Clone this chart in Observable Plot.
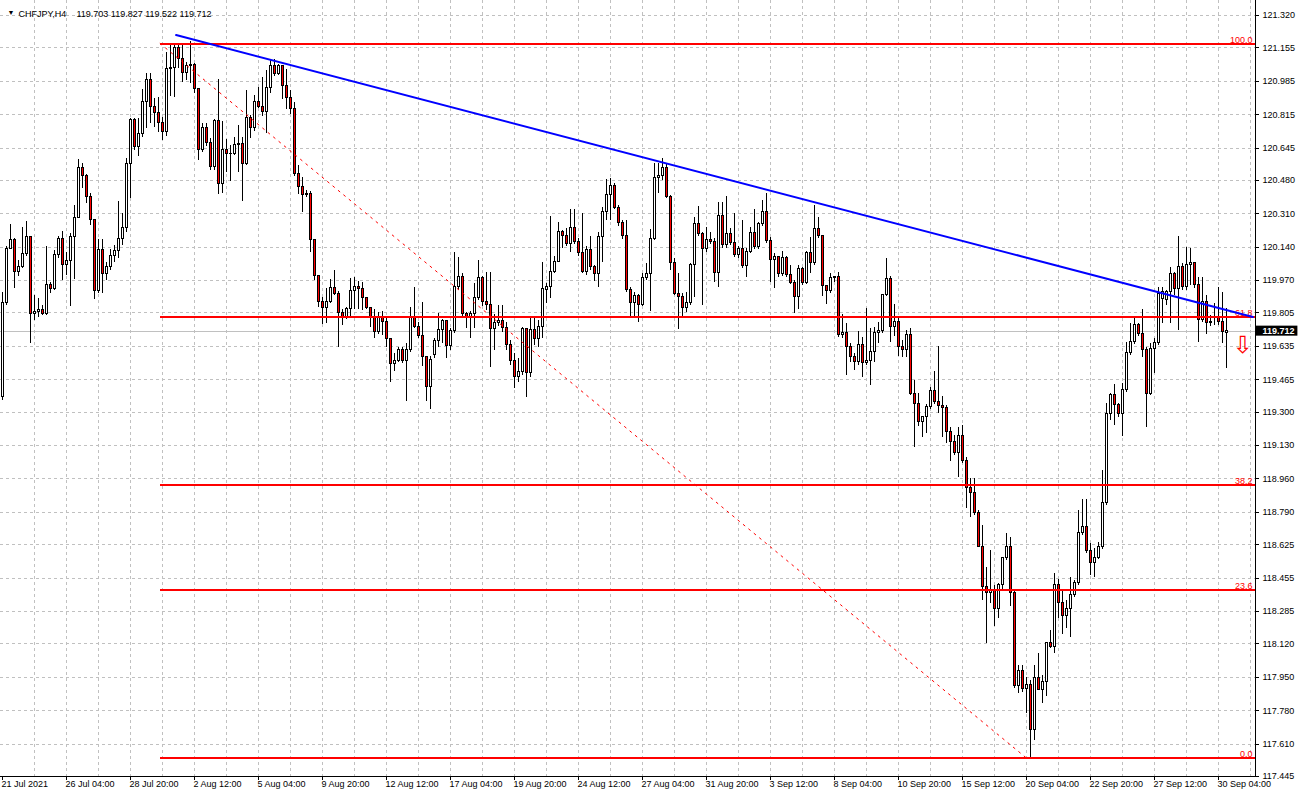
<!DOCTYPE html>
<html><head><meta charset="utf-8">
<script src="https://cdn.jsdelivr.net/npm/d3@7"></script>
<script src="https://cdn.jsdelivr.net/npm/@observablehq/plot@0.6"></script>
<style>body{margin:0;background:#fff} svg{display:block}</style>
</head><body><div id="chart"></div>
<script>
const open = [
119.375,119.854,120.133,120.179,120.016,120.037,120.103,120.190,119.798,119.808,
119.818,119.798,119.945,119.925,120.098,120.184,120.047,120.072,120.190,120.291,
120.541,120.500,120.398,120.276,119.915,120.128,120.006,120.037,120.093,120.123,
120.184,120.240,120.566,120.790,120.648,120.714,120.877,120.989,120.856,120.821,
120.770,120.724,121.045,121.050,121.152,121.096,121.029,121.060,121.070,120.943,
120.637,120.749,120.673,120.546,120.780,120.464,120.637,120.612,120.617,120.658,
120.663,120.566,120.800,120.749,120.877,120.856,120.826,120.953,121.065,121.024,
121.060,120.963,120.902,120.846,120.515,120.444,120.408,120.413,120.179,119.991,
119.859,119.828,119.859,119.930,119.904,119.803,119.782,119.823,119.915,119.935,
119.925,119.879,119.828,119.782,119.706,119.777,119.757,119.675,119.543,119.563,
119.619,119.558,119.614,119.782,119.736,119.686,119.579,119.426,119.589,119.660,
119.716,119.762,119.635,119.711,119.935,119.986,119.798,119.777,119.798,119.879,
119.981,119.859,119.848,119.721,119.752,119.762,119.726,119.640,119.563,119.477,
119.507,119.721,119.497,119.716,119.670,119.736,119.920,119.935,120.016,120.067,
120.215,120.195,120.154,120.240,120.164,120.108,120.016,120.128,120.037,120.001,
120.190,120.317,120.408,120.454,120.342,120.261,120.195,119.920,119.854,119.894,
119.848,119.981,120.006,120.184,120.490,120.500,120.541,120.393,120.057,119.904,
119.884,119.828,119.854,120.047,120.256,120.205,120.133,120.179,120.164,120.011,
120.301,120.149,120.205,120.159,120.098,120.133,120.042,120.118,120.210,120.139,
120.256,120.317,120.169,120.077,120.088,120.001,120.083,119.996,119.960,119.884,
120.027,119.960,120.108,120.057,120.235,120.195,119.940,119.915,119.981,119.986,
119.691,119.701,119.630,119.579,119.553,119.640,119.548,119.558,119.604,119.701,
119.711,119.899,119.976,119.736,119.757,119.630,119.619,119.691,119.395,119.344,
119.248,119.273,119.324,119.406,119.350,119.329,119.319,119.197,119.146,119.090,
119.181,119.049,118.912,118.886,118.789,118.616,118.408,118.377,118.392,118.296,
118.418,118.555,118.611,118.377,117.904,117.980,117.888,117.909,117.680,117.944,
117.883,117.924,118.123,118.102,118.418,118.326,118.260,118.296,118.367,118.428,
118.683,118.713,118.591,118.530,118.560,118.611,118.840,119.293,119.385,119.334,
119.293,119.411,119.599,119.655,119.742,119.696,119.614,119.395,119.624,119.650,
119.874,119.869,119.910,120.006,119.925,120.037,119.935,120.047,120.057,119.945,
119.767,119.859,119.752,119.787,119.777,119.757,119.703];
const high = [
119.910,120.144,120.256,120.184,120.072,120.240,120.271,120.190,119.894,119.879,
119.843,120.144,119.960,120.123,120.195,120.220,120.113,120.210,120.352,120.587,
120.566,120.510,120.413,120.281,120.179,120.179,120.062,120.128,120.149,120.373,
120.312,120.592,120.795,120.795,120.795,120.943,121.024,121.024,120.897,120.902,
120.800,121.131,121.177,121.177,121.177,121.177,121.080,121.187,121.075,120.948,
120.770,120.770,120.693,120.790,120.994,120.780,120.688,120.658,120.699,120.760,
120.699,120.938,120.811,120.912,120.953,121.004,121.040,121.096,121.096,121.070,
121.065,121.045,120.938,120.877,120.556,120.495,120.429,120.424,120.179,119.996,
119.884,119.930,119.976,120.021,119.915,119.823,119.833,119.981,119.986,119.966,
119.960,119.879,119.828,119.823,119.808,119.813,119.777,119.675,119.599,119.630,
119.630,119.650,119.833,119.935,119.757,119.859,119.579,119.584,119.675,119.803,
119.772,119.767,119.726,120.113,120.088,120.006,119.808,119.813,119.955,120.072,
119.991,120.011,120.011,119.798,119.843,119.843,119.757,119.665,119.599,119.573,
119.731,119.726,119.782,119.777,119.767,120.062,119.955,120.296,120.093,120.266,
120.225,120.235,120.332,120.332,120.184,120.312,120.144,120.195,120.047,120.215,
120.342,120.485,120.490,120.464,120.352,120.276,120.276,119.935,119.910,119.899,
120.006,120.057,120.230,120.566,120.566,120.592,120.566,120.403,120.083,120.006,
119.904,119.910,120.057,120.291,120.347,120.215,120.240,120.215,120.184,120.368,
120.368,120.398,120.235,120.312,120.144,120.276,120.133,120.240,120.332,120.266,
120.378,120.413,120.190,120.108,120.088,120.118,120.093,120.047,119.971,120.047,
120.037,120.118,120.190,120.352,120.291,120.195,119.945,120.006,119.991,120.011,
119.798,119.752,119.650,119.599,119.711,119.680,119.828,119.726,119.731,119.757,
119.899,120.083,119.991,119.848,119.777,119.665,119.716,119.726,119.461,119.395,
119.278,119.339,119.426,119.507,119.635,119.380,119.334,119.222,119.181,119.222,
119.232,119.069,118.962,118.962,118.800,118.723,118.509,118.596,118.418,118.428,
118.560,118.683,118.662,118.392,118.011,118.011,117.949,117.934,118.011,118.072,
117.960,118.128,118.189,118.479,118.448,118.397,118.341,118.458,118.443,118.800,
118.856,118.856,118.632,118.606,118.637,119.003,119.344,119.395,119.441,119.344,
119.446,119.655,119.752,119.787,119.752,119.823,119.630,119.650,119.675,119.935,
119.935,119.920,120.037,120.011,120.195,120.057,120.139,120.133,120.062,119.986,
119.986,119.894,119.792,119.854,119.935,119.910,119.827];
const low = [
119.360,119.843,120.128,119.930,119.991,120.032,120.093,119.650,119.767,119.782,
119.792,119.792,119.904,119.920,120.083,119.971,119.996,119.838,119.976,120.286,
120.439,120.363,120.251,119.874,119.904,119.904,119.971,120.021,120.062,120.083,
120.149,120.215,120.388,120.632,120.602,120.699,120.744,120.770,120.749,120.724,
120.683,120.704,120.907,120.902,121.050,120.979,120.989,120.973,120.923,120.581,
120.622,120.653,120.531,120.531,120.408,120.413,120.520,120.475,120.607,120.520,
120.373,120.556,120.693,120.729,120.846,120.806,120.719,120.923,121.009,121.014,
120.892,120.841,120.816,120.500,120.408,120.317,120.393,120.113,119.971,119.833,
119.747,119.752,119.854,119.894,119.630,119.742,119.772,119.777,119.823,119.823,
119.818,119.823,119.731,119.675,119.696,119.691,119.630,119.451,119.507,119.553,
119.548,119.354,119.604,119.726,119.675,119.533,119.354,119.314,119.573,119.630,
119.650,119.573,119.614,119.701,119.920,119.787,119.726,119.675,119.726,119.869,
119.838,119.818,119.528,119.614,119.736,119.706,119.614,119.538,119.421,119.451,
119.487,119.375,119.477,119.640,119.630,119.675,119.854,119.879,120.006,120.062,
120.133,120.144,120.113,120.154,120.093,120.006,119.996,120.021,119.966,119.935,
120.062,120.276,120.276,120.332,120.245,120.179,119.910,119.787,119.787,119.757,
119.838,119.971,119.813,120.174,120.413,120.480,120.388,120.021,119.894,119.721,
119.782,119.808,119.843,119.884,120.195,119.843,120.113,120.154,119.960,119.935,
120.133,120.133,120.149,120.088,120.083,120.032,119.986,120.108,120.128,120.128,
120.245,120.159,119.960,119.930,119.986,119.991,119.986,119.950,119.803,119.823,
119.945,119.950,120.006,120.047,120.184,119.889,119.848,119.904,119.960,119.680,
119.675,119.487,119.553,119.512,119.538,119.477,119.538,119.436,119.553,119.650,
119.701,119.889,119.655,119.686,119.584,119.579,119.579,119.385,119.120,119.227,
119.171,119.192,119.314,119.339,119.293,119.171,119.141,119.049,119.080,118.968,
119.039,118.810,118.764,118.774,118.611,118.341,118.123,118.326,118.209,118.250,
118.392,118.545,118.311,117.893,117.868,117.873,117.766,117.537,117.629,117.883,
117.817,117.853,118.097,118.072,118.250,118.168,118.199,118.153,118.357,118.418,
118.672,118.581,118.469,118.458,118.550,118.601,118.825,119.258,119.232,119.273,
119.176,119.400,119.589,119.645,119.686,119.579,119.222,119.385,119.497,119.640,
119.752,119.843,119.752,119.894,119.716,119.920,119.920,119.945,119.930,119.655,
119.757,119.696,119.736,119.742,119.742,119.650,119.522];
const close = [
119.854,120.133,120.179,120.016,120.037,120.103,120.190,119.798,119.808,119.818,
119.798,119.945,119.925,120.098,120.184,120.047,120.072,120.190,120.291,120.541,
120.500,120.398,120.276,119.915,120.128,120.006,120.037,120.093,120.123,120.184,
120.240,120.566,120.790,120.648,120.714,120.877,120.989,120.856,120.821,120.770,
120.724,121.045,121.050,121.152,121.096,121.029,121.060,121.070,120.943,120.637,
120.749,120.673,120.546,120.780,120.464,120.637,120.612,120.617,120.658,120.663,
120.566,120.800,120.749,120.877,120.856,120.826,120.953,121.065,121.024,121.060,
120.963,120.902,120.846,120.515,120.444,120.408,120.413,120.179,119.991,119.859,
119.828,119.859,119.930,119.904,119.803,119.782,119.823,119.915,119.935,119.925,
119.879,119.828,119.782,119.706,119.777,119.757,119.675,119.543,119.563,119.619,
119.558,119.614,119.782,119.736,119.686,119.579,119.426,119.568,119.660,119.716,
119.762,119.635,119.711,119.935,119.986,119.798,119.777,119.798,119.879,119.981,
119.859,119.848,119.721,119.752,119.762,119.726,119.640,119.563,119.477,119.507,
119.721,119.497,119.716,119.670,119.736,119.925,119.935,120.016,120.067,120.215,
120.195,120.154,120.240,120.164,120.108,120.016,120.128,120.037,120.001,120.190,
120.317,120.408,120.454,120.342,120.261,120.195,119.920,119.854,119.894,119.848,
119.981,120.006,120.184,120.490,120.500,120.541,120.393,120.057,119.904,119.884,
119.828,119.854,120.047,120.256,120.205,120.133,120.179,120.164,120.011,120.301,
120.149,120.205,120.159,120.098,120.133,120.042,120.118,120.210,120.139,120.256,
120.317,120.169,120.077,120.088,120.001,120.083,119.996,119.960,119.884,120.027,
119.960,120.108,120.057,120.235,120.195,119.940,119.915,119.981,119.986,119.691,
119.701,119.630,119.579,119.553,119.640,119.548,119.558,119.604,119.701,119.711,
119.899,119.976,119.736,119.757,119.630,119.619,119.691,119.395,119.344,119.248,
119.273,119.324,119.406,119.350,119.329,119.319,119.197,119.146,119.090,119.181,
119.049,118.912,118.886,118.789,118.616,118.408,118.377,118.392,118.296,118.418,
118.555,118.611,118.377,117.904,117.980,117.888,117.909,117.680,117.944,117.883,
117.924,118.123,118.102,118.418,118.326,118.260,118.296,118.367,118.428,118.683,
118.713,118.591,118.530,118.560,118.611,118.840,119.293,119.385,119.334,119.293,
119.411,119.599,119.655,119.742,119.696,119.614,119.395,119.624,119.650,119.904,
119.910,119.910,120.006,119.925,120.037,119.935,120.047,120.057,119.945,119.767,
119.859,119.752,119.757,119.777,119.757,119.706,119.712];

// axis labels
const xLabelBars = [0,16,32,48,64,80,96,112,128,144,160,176,192,208,224,240,256,272,288,304];
const xLabels = ["21 Jul 2021","26 Jul 04:00","28 Jul 20:00","2 Aug 12:00","5 Aug 04:00","9 Aug 20:00",
  "12 Aug 12:00","17 Aug 04:00","19 Aug 20:00","24 Aug 12:00","27 Aug 04:00","31 Aug 20:00","3 Sep 12:00",
  "8 Sep 04:00","10 Sep 20:00","15 Sep 12:00","20 Sep 04:00","22 Sep 20:00","27 Sep 12:00","30 Sep 04:00"];
const yTickLabels = ["121.320","121.155","120.985","120.815","120.645","120.480","120.310","120.140",
  "119.970","119.805","119.635","119.465","119.300","119.130","118.960","118.790","118.625","118.455",
  "118.285","118.120","117.950","117.780","117.610","117.445"];

// objects
const fibLevels = [100, 61.8, 38.2, 23.6, 0];
const fibLabels = ["100.0", "61.8", "38.2", "23.6", "0.0"];
const fibHigh = 121.177, fibLow = 117.537;
const fibBars = [39.4, 256.1];
const trendBars = [43.4, 312.6];
const trendPrices = [121.220, 119.785];
const lastPrice = 119.712;
const header = ["CHFJPY,H4", "119.703 119.827 119.522 119.712"];
const arrowPoint = {bar: 310.1, price: 119.640};

const X0 = -0.5, X1 = 313.25, Y0 = 117.445, Y1 = 121.396;
const candles = open.map((o, i) => ({i, o, h: high[i], l: low[i], c: close[i]}));
const yTicks = yTickLabels.map(Number);
const gridBars = d3.range(8, 313, 8);
const fibRows = fibLevels.map((lv, k) => ({p: fibLow + lv / 100 * (fibHigh - fibLow), label: fibLabels[k], x1: fibBars[0], x2: X1}));
const trend = trendBars.map((b, k) => ({b, p: trendPrices[k]}));
const diag = [{b: fibBars[0], p: fibHigh}, {b: fibBars[1], p: fibLow}];
const FONT = "Liberation Sans, Arial, sans-serif";

const chart = Plot.plot({
  width: 1300, height: 798,
  marginTop: 0, marginBottom: 22, marginLeft: 0, marginRight: 45,
  x: {domain: [X0, X1], axis: null},
  y: {domain: [Y0, Y1], axis: null},
  style: {background: "#fff", fontFamily: FONT, fontSize: "9px", color: "#000"},
  marks: [
    Plot.ruleY(yTicks, {stroke: "#c0c0c0", strokeDasharray: "3,3", shapeRendering: "crispEdges"}),
    Plot.ruleX(gridBars, {stroke: "#c0c0c0", strokeDasharray: "3,3", shapeRendering: "crispEdges"}),
    Plot.ruleY([lastPrice], {stroke: "#c0c0c0", shapeRendering: "crispEdges"}),
    // candles
    Plot.ruleX(candles, {x: "i", y1: "l", y2: "h", stroke: "#000", shapeRendering: "crispEdges"}),
    Plot.rect(candles, {
      x1: d => d.i - 0.25, x2: d => d.i + 0.25,
      y1: "o", y2: d => Math.abs(d.c - d.o) < 0.004 ? d.o + 0.004 : d.c,
      fill: d => d.c >= d.o ? "#fff" : "#ff0000", stroke: "#000", strokeWidth: 1, shapeRendering: "crispEdges"
    }),
    // fibonacci
    Plot.ruleY(fibRows, {y: "p", x1: "x1", x2: "x2", stroke: "#ff0000", strokeWidth: 2, shapeRendering: "crispEdges"}),
    Plot.line(diag, {x: "b", y: "p", stroke: "#ff0000", strokeWidth: 1, strokeDasharray: "2,5"}),
    Plot.text(fibRows, {y: "p", text: "label", frameAnchor: "right", textAnchor: "end", lineAnchor: "bottom", dx: -3, dy: -1, fill: "#ff0000", fontSize: 9}),
    // trendline
    Plot.line(trend, {x: "b", y: "p", stroke: "#0000ff", strokeWidth: 2}),
    // arrow
    Plot.text([arrowPoint], {x: "bar", y: "price", text: () => "\u21E9", fill: "#ff0000", fontSize: 24, fontFamily: "DejaVu Sans"}),
    // axes lines
    Plot.ruleX([X1], {stroke: "#000", shapeRendering: "crispEdges"}),
    Plot.ruleY([Y0], {stroke: "#000", shapeRendering: "crispEdges"}),
    Plot.ruleY(yTicks, {x1: X1, x2: X1 + 0.9, stroke: "#000", shapeRendering: "crispEdges"}),
    Plot.text(yTicks, {y: d => d, text: (d, k) => yTickLabels[k], frameAnchor: "right", textAnchor: "start", dx: 7, fill: "#000"}),
    Plot.ruleX(xLabelBars, {y1: Y0, y2: Y0 - 0.02, stroke: "#000", shapeRendering: "crispEdges"}),
    Plot.text(xLabelBars, {x: d => d, text: (d, k) => xLabels[k], frameAnchor: "bottom", textAnchor: "start", dy: 10, dx: -1, fill: "#000"}),
    // last price label
    Plot.rect([lastPrice], {x1: X1 + 0.15, x2: X1 + 10.6, y1: d => d - 0.025, y2: d => d + 0.026, fill: "#000"}),
    Plot.text([lastPrice], {y: d => d, text: d => d.toFixed(3), frameAnchor: "right", textAnchor: "start", dx: 7, fill: "#fff", fontWeight: "bold"}),
    // header
    Plot.text(["\u25BC"], {frameAnchor: "top-left", dx: 7, dy: 10, textAnchor: "start", fontSize: 7, fill: "#000"}),
    Plot.text([header[0]], {frameAnchor: "top-left", dx: 18, dy: 10, textAnchor: "start", fill: "#000"}),
    Plot.text([header[1]], {frameAnchor: "top-left", dx: 76, dy: 10, textAnchor: "start", fill: "#000"})
  ]
});
document.getElementById("chart").appendChild(chart);
</script>
</body></html>
